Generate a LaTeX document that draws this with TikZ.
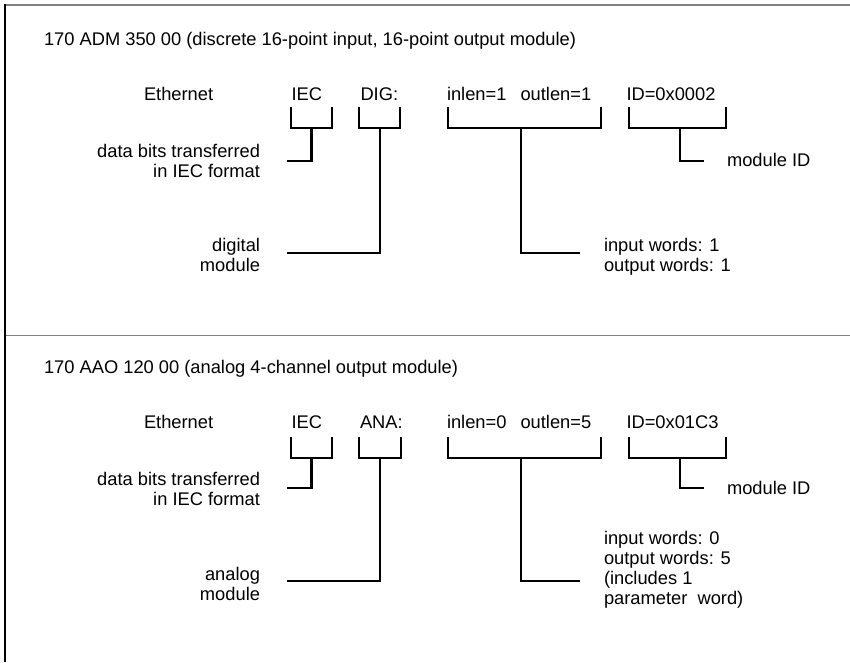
\documentclass[tikz,border=0pt]{standalone}
\usepackage{fontspec}
\setmainfont{Liberation Sans}
\begin{document}
\begin{tikzpicture}[x=1pt,y=-1pt,
  lbl/.style={inner sep=0pt, outer sep=0pt, font=\fontsize{18.3}{20}\selectfont},
  lw/.style={lbl, anchor=base west},
  le/.style={lbl, anchor=base east},
  brk/.style={line width=2.2pt, line cap=butt, line join=miter, draw=black},
  rule/.style={line width=1.4pt, draw=black!50}]
\useasboundingbox (0,0) rectangle (850,662);

% frame
\coordinate (ftl) at (5,5);
\coordinate (ftr) at (850,5);
\coordinate (fml) at (5,335.5);
\coordinate (fmr) at (850,335.5);
\coordinate (fbl) at (5,662);
\draw[rule] (ftl) -- (ftr);
\draw[rule] (fml) -- (fmr);
\draw[line width=2pt, black] ([yshift=0.7pt]ftl) -- (fbl);

% ===== top section =====
\node[lw] (t1) at (44,45) {170 ADM 350 00 (discrete 16-point input, 16-point output module)};
\node[lw] (eth1) at (144,100) {Ethernet};
\node[lw] (iec1) at (291.5,100) {IEC};
\node[lw] (dig1) at (360.5,100) {DIG:};
\node[lw] (len1) at (447,100) {inlen=1\hspace{14pt}outlen=1};
\node[lw] (id1) at (626.5,100) {ID=0x0002};
\node[le] (db1a) at (260,157) {data bits transferred};
\node[le] (db1b) at (260,177) {in IEC format};
\node[le] (dm1a) at (260,251.5) {digital};
\node[le] (dm1b) at (260,271.5) {module};
\node[lw] (mid1) at (727,166) {module ID};
\node[lw] (iw1a) at (604,251) {input words: 1};
\node[lw] (iw1b) at (604,271) {output words: 1};

\coordinate (a1) at (291,107); \coordinate (a2) at (332,107);
\coordinate (a3) at (311.5,128); \coordinate (a4) at (287,161);
\draw[brk] (a1) |- (a3) -| (a2);
\draw[brk] (a3) |- (a4);

\coordinate (b1) at (359,107); \coordinate (b2) at (400,107);
\coordinate (b3) at (380,128); \coordinate (b4) at (287,253);
\draw[brk] (b1) |- (b3) -| (b2);
\draw[brk] (b3) |- (b4);

\coordinate (c1) at (448,107); \coordinate (c2) at (601,107);
\coordinate (c3) at (521,128); \coordinate (c4) at (580,253);
\draw[brk] (c1) |- (c3) -| (c2);
\draw[brk] (c3) |- (c4);

\coordinate (d1) at (629,107); \coordinate (d2) at (726,107);
\coordinate (d3) at (680,128); \coordinate (d4) at (704,161);
\draw[brk] (d1) |- (d3) -| (d2);
\draw[brk] (d3) |- (d4);

% ===== bottom section =====
\node[lw] (t2) at (44,373.5) {170 AAO 120 00 (analog 4-channel output module)};
\node[lw] (eth2) at (144,428.5) {Ethernet};
\node[lw] (iec2) at (291.5,428.5) {IEC};
\node[lw] (ana2) at (360,428.5) {ANA:};
\node[lw] (len2) at (447,428.5) {inlen=0\hspace{14pt}outlen=5};
\node[lw] (id2) at (626.5,428.5) {ID=0x01C3};
\node[le] (db2a) at (260,485) {data bits transferred};
\node[le] (db2b) at (260,505) {in IEC format};
\node[le] (am2a) at (260,580) {analog};
\node[le] (am2b) at (260,600) {module};
\node[lw] (mid2) at (727,494) {module ID};
\node[lw] (iw2a) at (604,544) {input words: 0};
\node[lw] (iw2b) at (604,564) {output words: 5};
\node[lw] (iw2c) at (604,584) {(includes 1};
\node[lw] (iw2d) at (604,604) {parameter\ \ word)};

\coordinate (e1) at (291,437); \coordinate (e2) at (332,437);
\coordinate (e3) at (311.5,458); \coordinate (e4) at (287,488);
\draw[brk] (e1) |- (e3) -| (e2);
\draw[brk] (e3) |- (e4);

\coordinate (f1) at (359,437); \coordinate (f2) at (401,437);
\coordinate (f3) at (380,458); \coordinate (f4) at (287,581);
\draw[brk] (f1) |- (f3) -| (f2);
\draw[brk] (f3) |- (f4);

\coordinate (g1) at (448,437); \coordinate (g2) at (601,437);
\coordinate (g3) at (521,458); \coordinate (g4) at (580,581);
\draw[brk] (g1) |- (g3) -| (g2);
\draw[brk] (g3) |- (g4);

\coordinate (h1) at (629,437); \coordinate (h2) at (726,437);
\coordinate (h3) at (680,458); \coordinate (h4) at (704,488);
\draw[brk] (h1) |- (h3) -| (h2);
\draw[brk] (h3) |- (h4);
\end{tikzpicture}
\end{document}
